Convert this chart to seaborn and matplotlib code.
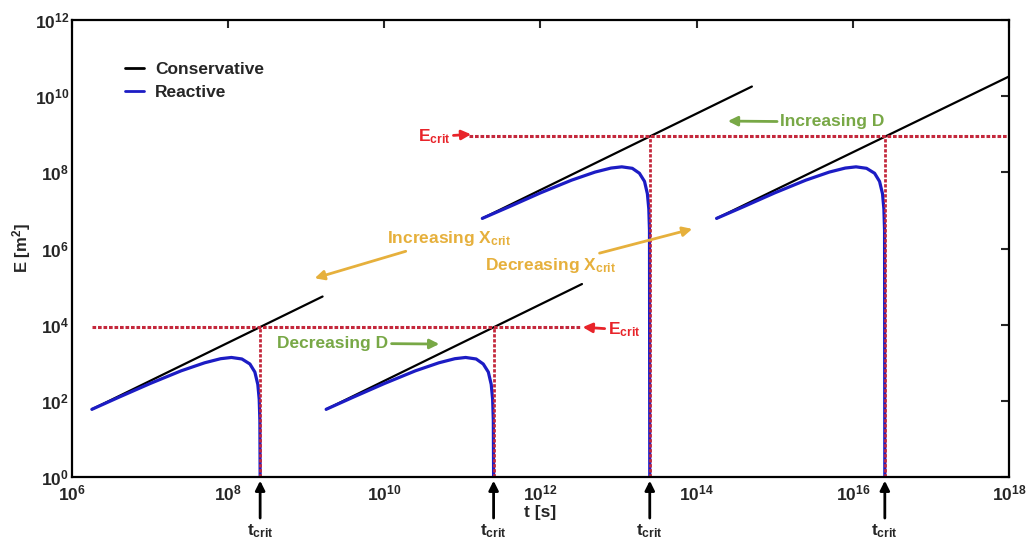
import numpy as np
import pandas as pd
import seaborn as sns
import matplotlib
matplotlib.use("Agg")
import matplotlib.pyplot as plt
from matplotlib.lines import Line2D

#  Data
# conservative lines: start / end points
cons_t = [[1.8e6, 1.62e9], [1.8e9, 3.4e12], [1.8e11, 5.1e14], [1.8e14, 1e18]]
cons_E = [[60, 5.5e4], [60, 1.17e5], [6.2e6, 1.8e10], [6.2e6, 3.3e10]]

# reactive curves
react_t = [
    [1.8e6, 4e6, 1e7, 2.5e7, 5e7, 8e7, 1.1e8, 1.5e8, 1.9e8, 2.2e8, 2.4e8, 2.5e8, 2.55e8, 2.57e8],
    [1.8e9, 4e9, 1e10, 2.5e10, 5e10, 8e10, 1.1e11, 1.5e11, 1.85e11, 2.15e11, 2.34e11, 2.44e11, 2.49e11, 2.51e11],
    [1.8e11, 4e11, 1e12, 2.5e12, 5e12, 8e12, 1.1e13, 1.5e13, 1.85e13, 2.15e13, 2.34e13, 2.44e13, 2.49e13, 2.51e13],
    [1.8e14, 4e14, 1e15, 2.5e15, 5e15, 8e15, 1.1e16, 1.5e16, 1.9e16, 2.2e16, 2.4e16, 2.5e16, 2.55e16, 2.57e16],
]
react_E = [
    [60, 125, 285, 615, 1000, 1280, 1380, 1260, 930, 570, 270, 110, 30, 1],
    [60, 125, 285, 615, 1000, 1280, 1380, 1260, 930, 570, 270, 110, 30, 1],
    [6.2e6, 1.26e7, 2.9e7, 6.25e7, 1.02e8, 1.3e8, 1.4e8, 1.28e8, 9.5e7, 5.8e7, 2.75e7, 1.1e7, 3e6, 1],
    [6.2e6, 1.26e7, 2.9e7, 6.25e7, 1.02e8, 1.3e8, 1.4e8, 1.28e8, 9.5e7, 5.8e7, 2.75e7, 1.1e7, 3e6, 1],
]

t_crit = [2.57e8, 2.51e11, 2.51e13, 2.57e16]
E_crit_of = [8.7e3, 8.7e3, 8.9e8, 8.9e8]
E_crit_low, E_crit_low_span = 8.7e3, [1.8e6, 3.2e12]
E_crit_high, E_crit_high_span = 8.9e8, [1.2e11, 1e18]

x_ticks = [1e6, 1e8, 1e10, 1e12, 1e14, 1e16, 1e18]
x_ticklabels = [r"$10^{6}$", r"$10^{8}$", r"$10^{10}$", r"$10^{12}$", r"$10^{14}$", r"$10^{16}$", r"$10^{18}$"]
y_ticks = [1e0, 1e2, 1e4, 1e6, 1e8, 1e10, 1e12]
y_ticklabels = [r"$10^{0}$", r"$10^{2}$", r"$10^{4}$", r"$10^{6}$", r"$10^{8}$", r"$10^{10}$", r"$10^{12}$"]

#  Style
sns.set_style("white")
plt.rcParams["font.family"] = ["Liberation Sans", "DejaVu Sans"]
plt.rcParams["font.weight"] = "bold"
plt.rcParams["mathtext.fontset"] = "custom"
plt.rcParams["mathtext.rm"] = "Liberation Sans:bold"
plt.rcParams["mathtext.it"] = "Liberation Sans:bold"
plt.rcParams["mathtext.bf"] = "Liberation Sans:bold"
plt.rcParams["mathtext.default"] = "rm"

BLUE = "#1c1cc4"
RED = "#e8242a"
DOT = "#c4283c"
ORANGE = "#e6b03c"
GREEN = "#78a846"

#  Long-form table
rows = []
for i, (tt, ee) in enumerate(zip(cons_t, cons_E)):
    for a, b in zip(tt, ee):
        rows.append(("Conservative", i, a, b))
for i, (tt, ee) in enumerate(zip(react_t, react_E)):
    for a, b in zip(tt, ee):
        rows.append(("Reactive", i, a, b))
df = pd.DataFrame(rows, columns=["kind", "grp", "t", "E"])

fig = plt.figure(figsize=(10.28, 5.43), dpi=100)
ax = fig.add_axes([0.070, 0.1215, 0.9115, 0.8415])
ax.set(xscale="log", yscale="log")

sns.lineplot(data=df, x="t", y="E", hue="kind", units="grp", estimator=None, sort=False,
             palette={"Conservative": "black", "Reactive": BLUE}, legend=False, ax=ax)
for ln in ax.lines:
    ln.set_linewidth(1.6 if ln.get_color() == "black" else 2.3)

# E_crit lines
ax.plot(E_crit_low_span, [E_crit_low] * 2, color=DOT, lw=2.2, ls=(0, (1.2, 0.6)))
ax.plot(E_crit_high_span, [E_crit_high] * 2, color=DOT, lw=2.2, ls=(0, (1.2, 0.6)))
for tc, ec in zip(t_crit, E_crit_of):
    ax.plot([tc, tc], [1, ec], color=DOT, lw=2.0, ls=(0, (1.2, 0.6)))

ax.set_xlim(1e6, 1e18)
ax.set_ylim(1e0, 1e12)
ax.set_xticks(x_ticks)
ax.set_xticklabels(x_ticklabels)
ax.set_yticks(y_ticks)
ax.set_yticklabels(y_ticklabels)
ax.minorticks_off()
ax.tick_params(which="major", direction="in", length=6, width=1.5, top=True, right=True,
               labelsize=12.5)
ax.tick_params(axis="x", pad=5)
ax.tick_params(axis="y", pad=2)
for s in ax.spines.values():
    s.set_linewidth(1.6)
    s.set_color("black")

ax.set_xlabel("t [s]", fontsize=12.5, fontweight="bold", labelpad=1)
ax.set_ylabel("E [m$^2$]", fontsize=12, fontweight="bold", labelpad=1)

# legend
handles = [Line2D([], [], color="black", lw=2), Line2D([], [], color=BLUE, lw=2)]
ax.legend(handles, ["Conservative", "Reactive"], loc="upper left", bbox_to_anchor=(0.057, 0.908),
          frameon=False, handlelength=1.1, handletextpad=0.6, labelspacing=0.45,
          borderpad=0, borderaxespad=0, prop={"size": 12.5, "weight": "bold"})

# t_crit arrows
for tc in t_crit:
    ax.annotate("t$_{crit}$", xy=(tc, -0.008), xycoords=("data", "axes fraction"),
                xytext=(tc, -0.1), textcoords=("data", "axes fraction"),
                ha="center", va="top", fontsize=12.5, fontweight="bold", annotation_clip=False,
                arrowprops=dict(arrowstyle="-|>", color="black", lw=2, mutation_scale=14,
                                shrinkA=1, shrinkB=0))

# annotations
fa = "axes fraction"
def note(txt, xy, xytext, color, ha):
    ax.annotate(txt, xy=xy, xycoords=fa, xytext=xytext, textcoords=fa, color=color,
                fontsize=12.5, fontweight="bold", ha=ha, va="center",
                arrowprops=dict(arrowstyle="-|>", color=color, lw=2, mutation_scale=14,
                                shrinkA=0, shrinkB=0))

note("Increasing X$_{crit}$", (0.259, 0.435), (0.336, 0.522), ORANGE, "left")
note("Decreasing X$_{crit}$", (0.662, 0.543), (0.441, 0.462), ORANGE, "left")
note("Decreasing D", (0.392, 0.291), (0.219, 0.293), GREEN, "left")
note("Increasing D", (0.700, 0.779), (0.756, 0.777), GREEN, "left")
note("E$_{crit}$", (0.426, 0.750), (0.369, 0.745), RED, "left")
note("E$_{crit}$", (0.545, 0.328), (0.572, 0.322), RED, "left")

fig.savefig("out.png", dpi=100)
